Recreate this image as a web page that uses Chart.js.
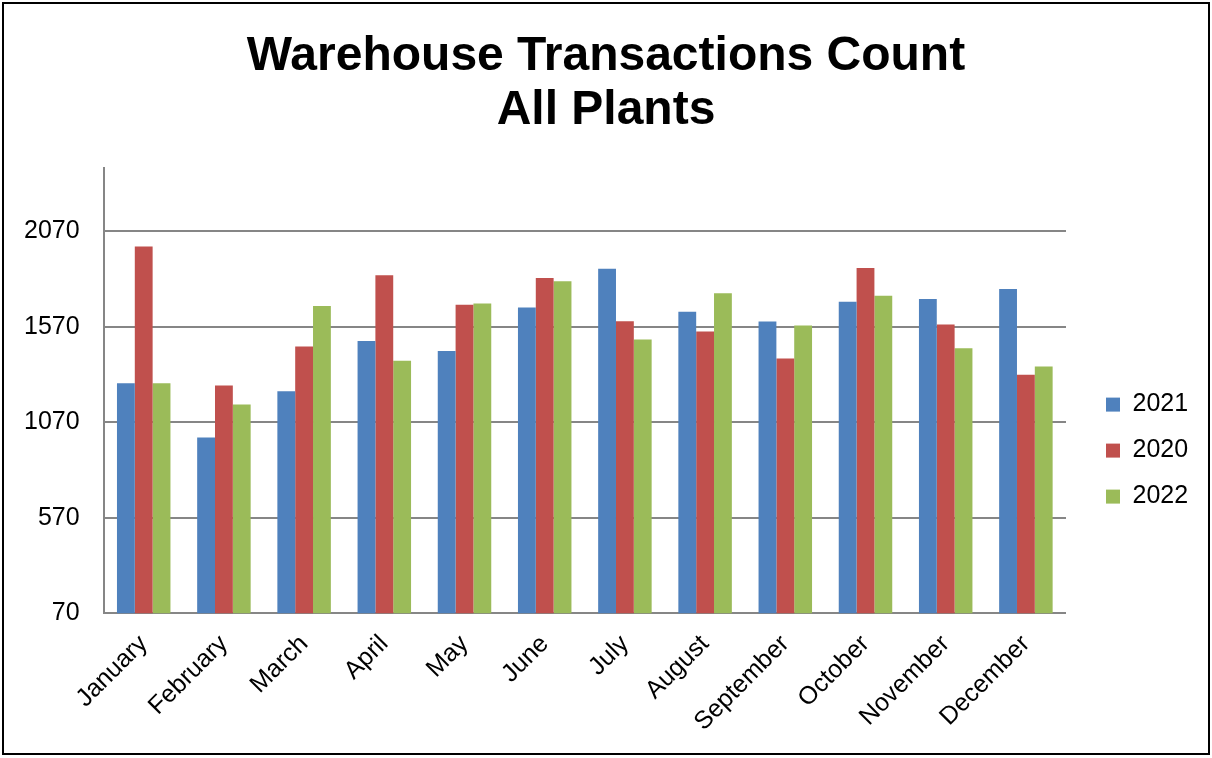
<!DOCTYPE html>
<html>
<head>
<meta charset="utf-8">
<title>Warehouse Transactions Count</title>
<script src="https://cdn.jsdelivr.net/npm/chart.js@4.4.1/dist/chart.umd.min.js"></script>
<style>
    html, body { margin: 0; padding: 0; background: #fff; }
</style>
</head>
<body>
<canvas id="transChart" width="1212" height="758"></canvas>
<script>
Chart.defaults.font.family = '"Liberation Sans", Arial, sans-serif'
Chart.defaults.color = '#000'

// datos
const meses = ['January', 'February', 'March', 'April', 'May', 'June', 'July', 'August', 'September', 'October', 'November', 'December']
const ticksY = [70, 570, 1070, 1570, 2070]
const minY = 70
const maxY = 2400

const serie2021 = [1275, 991, 1233, 1496, 1444, 1672, 1874, 1649, 1598, 1702, 1716, 1768]
const serie2020 = [1991, 1263, 1468, 1840, 1686, 1826, 1600, 1546, 1405, 1879, 1583, 1319]
const serie2022 = [1275, 1163, 1679, 1393, 1693, 1809, 1504, 1746, 1577, 1733, 1458, 1363]

const colores = { azul: '#4F81BD', rojo: '#C0504D', verde: '#9BBB59', gris: '#868686' }

// marco negro alrededor del grafico
const marco = {
    id: 'marco',
    afterDraw(chart) {
        const { ctx } = chart
        ctx.save()
        ctx.strokeStyle = '#000'
        ctx.lineWidth = 2
        ctx.strokeRect(3, 3, 1206, 751)
        ctx.restore()
    }
}

const data = {
    labels: meses,
    datasets: [
        { label: '2021', data: serie2021, backgroundColor: colores.azul },
        { label: '2020', data: serie2020, backgroundColor: colores.rojo },
        { label: '2022', data: serie2022, backgroundColor: colores.verde }
    ]
}

const options = {
    responsive: false,
    animation: false,
    layout: { padding: { top: 0, left: 0, right: 0, bottom: 13 } },
    datasets: {
        bar: { categoryPercentage: 0.667, barPercentage: 1.0, borderWidth: 0 }
    },
    plugins: {
        title: {
            display: true,
            text: ['Warehouse Transactions Count', 'All Plants'],
            font: { size: 48, weight: 'bold', lineHeight: 1.14 },
            color: '#000',
            padding: { top: 29, bottom: 30 }
        },
        legend: {
            position: 'right',
            // titulo vacio para bajar la leyenda al centro del area
            title: { display: true, text: ' ', font: { size: 1 }, padding: { top: 0, bottom: 155 } },
            labels: {
                font: { size: 25 },
                boxWidth: 14,
                boxHeight: 14,
                padding: 21,
                color: '#000',
                // espacios al final para separar la leyenda del borde
                generateLabels: chart => Chart.defaults.plugins.legend.labels.generateLabels(chart)
                    .map(item => ({ ...item, text: item.text + '  ' }))
            }
        },
        tooltip: { enabled: false }
    },
    scales: {
        x: {
            grid: { display: false },
            border: { display: true, color: colores.gris, width: 2 },
            ticks: {
                font: { size: 25 },
                color: '#000',
                minRotation: 45,
                maxRotation: 45,
                autoSkip: false,
                padding: 8
            },
            afterFit: escala => {
                escala.paddingLeft = 0
                escala.paddingRight = 0
            }
        },
        y: {
            min: minY,
            max: maxY,
            afterBuildTicks: escala => {
                escala.ticks = ticksY.map(v => ({ value: v }))
            },
            grid: { color: colores.gris, lineWidth: 2, drawTicks: false },
            border: { display: true, color: colores.gris, width: 2 },
            ticks: {
                font: { size: 25 },
                color: '#000',
                padding: 24,
                callback: v => String(v)
            }
        },
        y2: {
            position: 'right',
            display: true,
            grid: { display: false },
            border: { display: false },
            ticks: { display: false },
            afterFit: escala => { escala.width = 19 }
        }
    }
}

new Chart('transChart', { type: 'bar', data, options, plugins: [marco] })
</script>
</body>
</html>
